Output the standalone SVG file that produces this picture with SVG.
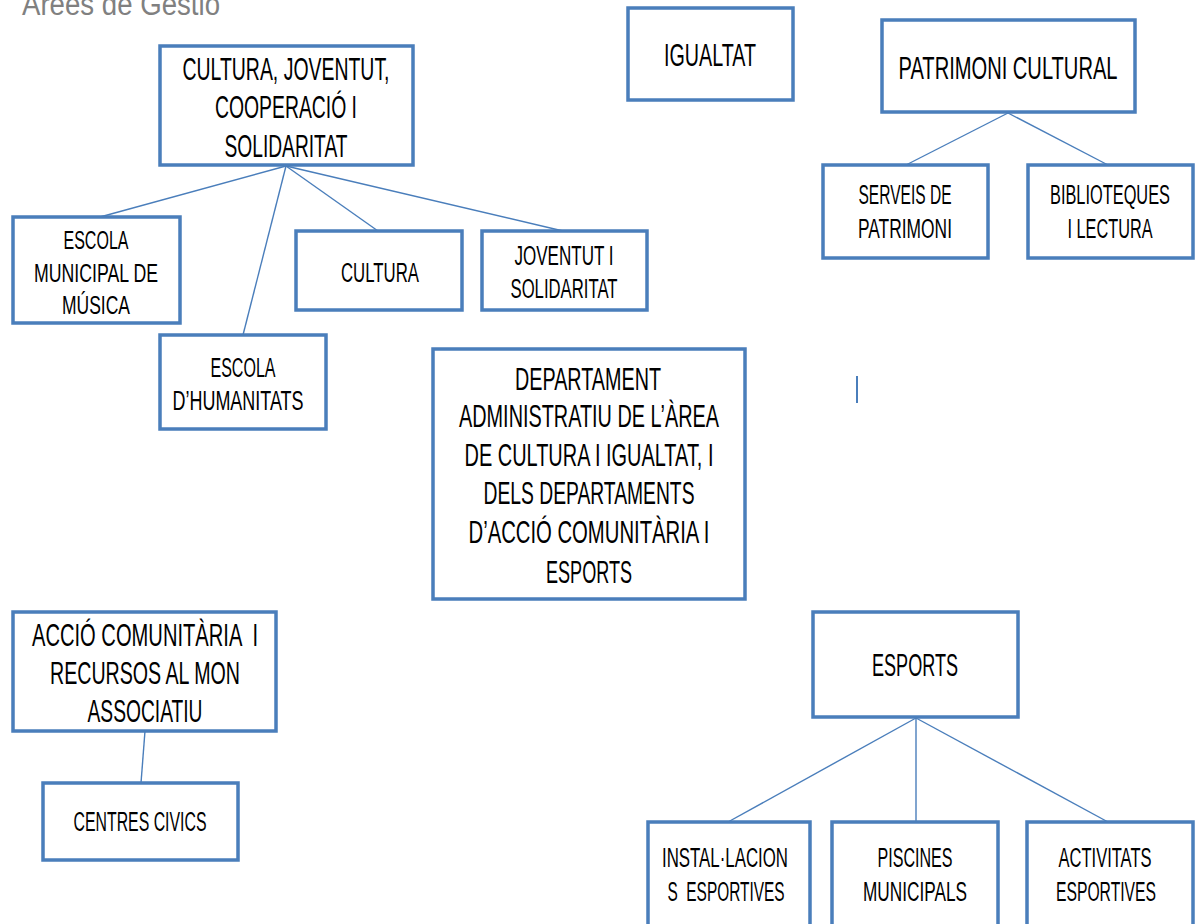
<svg xmlns="http://www.w3.org/2000/svg" width="1196" height="924" viewBox="0 0 1196 924">
<style>
.box{fill:#fff;stroke:#4a7ebb;stroke-width:3.5}
.con line{stroke:#4a7ebb;stroke-width:1.4}
text{font-family:"Liberation Sans",Arial,sans-serif;fill:#000;text-anchor:middle}
.l{font-size:32px}
.m{font-size:27px}
.s{font-size:25px}
.pre{white-space:pre}
.title{font-size:31px;fill:#808080;text-anchor:start}
</style>
<rect width="1196" height="924" fill="#fff"/>
<text class="title" x="22" y="15" textLength="198" lengthAdjust="spacingAndGlyphs">Àrees de Gestió</text>
<g id="connectors" class="con">
<line x1="286" y1="166" x2="100" y2="217"/>
<line x1="286" y1="166" x2="243" y2="335"/>
<line x1="286" y1="166" x2="378" y2="231"/>
<line x1="286" y1="166" x2="563" y2="231"/>
<line x1="1008" y1="113" x2="906" y2="165"/>
<line x1="1008" y1="113" x2="1108" y2="165"/>
<line x1="145" y1="731" x2="141" y2="783"/>
<line x1="916" y1="718" x2="728" y2="822"/>
<line x1="916" y1="718" x2="916" y2="822"/>
<line x1="916" y1="718" x2="1108" y2="822"/>
</g>
<line x1="857" y1="376" x2="857" y2="403" stroke="#4a7ebb" stroke-width="2"/>
<g id="cultura-joventut">
<rect class="box" x="160" y="46" width="253" height="119"/>
<text class="l" x="286" y="80" textLength="207" lengthAdjust="spacingAndGlyphs">CULTURA, JOVENTUT,</text>
<text class="l" x="286" y="118" textLength="142" lengthAdjust="spacingAndGlyphs">COOPERACIÓ I</text>
<text class="l" x="286" y="157" textLength="123" lengthAdjust="spacingAndGlyphs">SOLIDARITAT</text>
</g>
<g id="igualtat">
<rect class="box" x="628" y="8" width="165" height="92"/>
<text class="l" x="710" y="66" textLength="92" lengthAdjust="spacingAndGlyphs">IGUALTAT</text>
</g>
<g id="patrimoni">
<rect class="box" x="882" y="20" width="253" height="92"/>
<text class="l" x="1008" y="79" textLength="219" lengthAdjust="spacingAndGlyphs">PATRIMONI CULTURAL</text>
</g>
<g id="serveis">
<rect class="box" x="823" y="165" width="165" height="93"/>
<text class="m" x="905" y="204" textLength="93" lengthAdjust="spacingAndGlyphs">SERVEIS DE</text>
<text class="m" x="905" y="238" textLength="94" lengthAdjust="spacingAndGlyphs">PATRIMONI</text>
</g>
<g id="biblioteques">
<rect class="box" x="1028" y="165" width="165" height="93"/>
<text class="m" x="1110" y="204" textLength="120" lengthAdjust="spacingAndGlyphs">BIBLIOTEQUES</text>
<text class="m" x="1110" y="238" textLength="85" lengthAdjust="spacingAndGlyphs">I LECTURA</text>
</g>
<g id="escola-musica">
<rect class="box" x="13" y="217" width="167" height="106"/>
<text class="s" x="96" y="249" textLength="65" lengthAdjust="spacingAndGlyphs">ESCOLA</text>
<text class="s" x="96" y="282" textLength="124" lengthAdjust="spacingAndGlyphs">MUNICIPAL DE</text>
<text class="s" x="96" y="314" textLength="68" lengthAdjust="spacingAndGlyphs">MÚSICA</text>
</g>
<g id="escola-humanitats">
<rect class="box" x="160" y="335" width="166" height="94"/>
<text class="m" x="243" y="377" textLength="65" lengthAdjust="spacingAndGlyphs">ESCOLA</text>
<text class="m" x="238" y="410" textLength="131" lengthAdjust="spacingAndGlyphs">D’HUMANITATS</text>
</g>
<g id="cultura">
<rect class="box" x="296" y="231" width="166" height="79"/>
<text class="m" x="380" y="282" textLength="78" lengthAdjust="spacingAndGlyphs">CULTURA</text>
</g>
<g id="joventut">
<rect class="box" x="482" y="231" width="165" height="79"/>
<text class="m" x="564" y="265" textLength="99" lengthAdjust="spacingAndGlyphs">JOVENTUT I</text>
<text class="m" x="564" y="298" textLength="107" lengthAdjust="spacingAndGlyphs">SOLIDARITAT</text>
</g>
<g id="departament">
<rect class="box" x="433" y="349" width="312" height="250"/>
<text class="l" x="588" y="390" textLength="146" lengthAdjust="spacingAndGlyphs">DEPARTAMENT</text>
<text class="l" x="589" y="427" textLength="260" lengthAdjust="spacingAndGlyphs">ADMINISTRATIU DE L’ÀREA</text>
<text class="l" x="589" y="466" textLength="249" lengthAdjust="spacingAndGlyphs">DE CULTURA I IGUALTAT, I</text>
<text class="l" x="589" y="504" textLength="211" lengthAdjust="spacingAndGlyphs">DELS DEPARTAMENTS</text>
<text class="l" x="589" y="543" textLength="241" lengthAdjust="spacingAndGlyphs">D’ACCIÓ COMUNITÀRIA I</text>
<text class="l" x="589" y="583" textLength="86" lengthAdjust="spacingAndGlyphs">ESPORTS</text>
</g>
<g id="accio-comunitaria">
<rect class="box" x="13" y="612" width="263" height="119"/>
<text class="l pre" x="145" y="646" textLength="226" lengthAdjust="spacingAndGlyphs">ACCIÓ COMUNITÀRIA  I</text>
<text class="l" x="145" y="684" textLength="190" lengthAdjust="spacingAndGlyphs">RECURSOS AL MON</text>
<text class="l" x="145" y="722" textLength="115" lengthAdjust="spacingAndGlyphs">ASSOCIATIU</text>
</g>
<g id="centres-civics">
<rect class="box" x="43" y="783" width="195" height="77"/>
<text class="m" x="140" y="831" textLength="133" lengthAdjust="spacingAndGlyphs">CENTRES CIVICS</text>
</g>
<g id="esports">
<rect class="box" x="813" y="612" width="205" height="105"/>
<text class="l" x="915" y="676" textLength="86" lengthAdjust="spacingAndGlyphs">ESPORTS</text>
</g>
<g id="installacions">
<rect class="box" x="648" y="822" width="162" height="120"/>
<text class="m" x="725" y="867" textLength="126" lengthAdjust="spacingAndGlyphs">INSTAL·LACION</text>
<text class="m pre" x="726" y="901" textLength="117" lengthAdjust="spacingAndGlyphs">S  ESPORTIVES</text>
</g>
<g id="piscines">
<rect class="box" x="832" y="822" width="166" height="120"/>
<text class="m" x="915" y="867" textLength="75" lengthAdjust="spacingAndGlyphs">PISCINES</text>
<text class="m" x="915" y="901" textLength="104" lengthAdjust="spacingAndGlyphs">MUNICIPALS</text>
</g>
<g id="activitats">
<rect class="box" x="1027" y="822" width="166" height="120"/>
<text class="m" x="1105" y="867" textLength="93" lengthAdjust="spacingAndGlyphs">ACTIVITATS</text>
<text class="m" x="1106" y="901" textLength="100" lengthAdjust="spacingAndGlyphs">ESPORTIVES</text>
</g>
</svg>
